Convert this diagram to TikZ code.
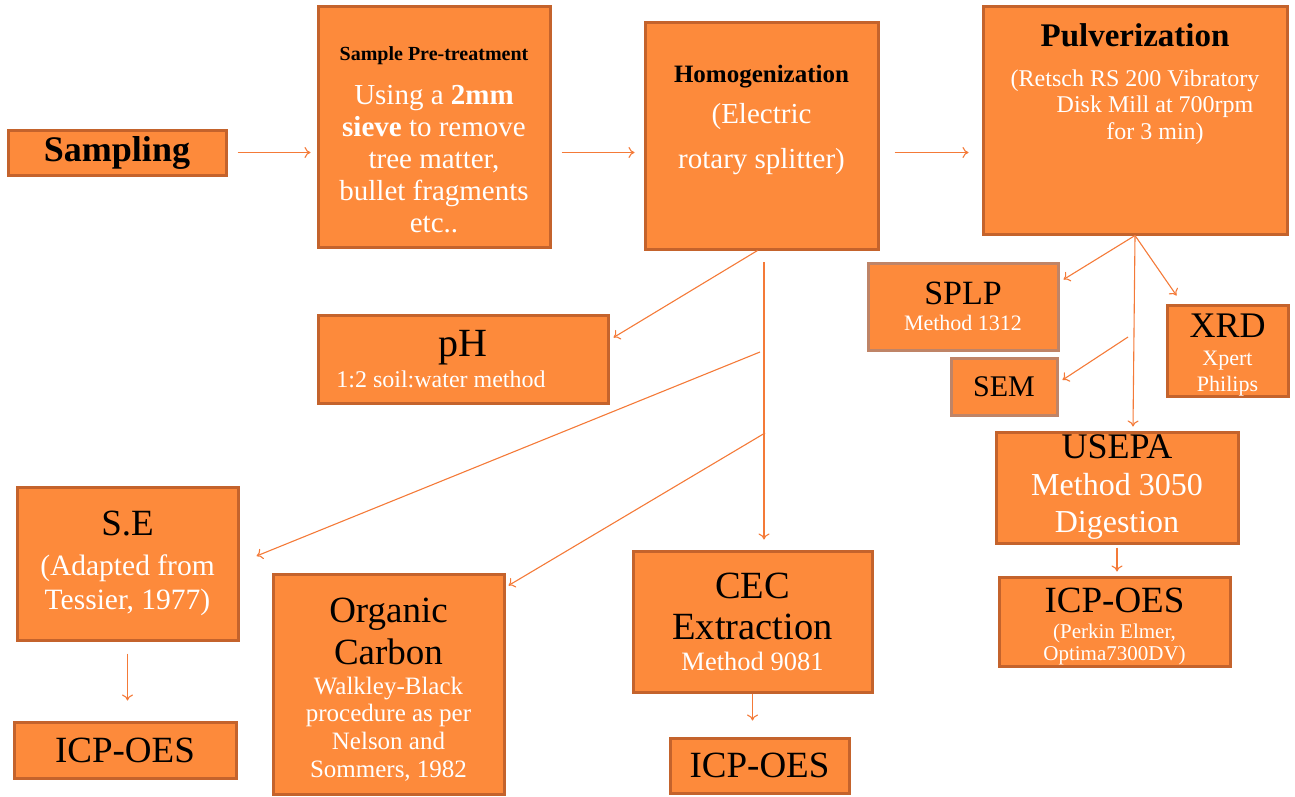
\documentclass[tikz,border=0pt]{standalone}
\usepackage{fontspec}
\newfontfamily\diagfont{Liberation Serif}
\usetikzlibrary{positioning, arrows.meta}
\definecolor{boxfill}{HTML}{FD8A3B}
\definecolor{boxedge}{HTML}{C4632C}
\definecolor{boxedgepale}{HTML}{BF8467}
\definecolor{arrowline}{HTML}{F47A38}
\begin{document}
\begin{tikzpicture}[->, >={To[length=6pt, width=11pt]}, x=1pt, y=-1pt,
    box/.style={draw=boxedge, fill=boxfill, line width=3pt, inner sep=0pt, text=white, font=\diagfont,
        align=flush center, execute at begin node={\spaceskip=0pt\xspaceskip=0pt\relax}},
    pale/.style={box, draw=boxedgepale},
    txt/.style={inner sep=0pt, text=white, font=\diagfont,
        align=flush center, execute at begin node={\spaceskip=0pt\xspaceskip=0pt\relax}},
    every edge/.append style={arrowline, line width=1.1pt}]
    \useasboundingbox (0,0) rectangle (1295,796);

    \node[box, minimum width=218pt, minimum height=45pt, text width=210pt] (1) at (117,152.5)
        {\fontsize{36}{40}\selectfont\bfseries\leavevmode\color{black}Sampling\par};
    \node[box, minimum width=232pt, minimum height=241pt] (2) at (434,126.5) {};
    \node[txt, text width=226pt, below=42pt] (2t) at (2.north)
        {{\fontsize{20}{24}\selectfont\bfseries\leavevmode\color{black}Sample Pre-treatment\par}
         \vspace{12pt}
         {\fontsize{29}{32}\selectfont Using a \textbf{2mm}\\ \textbf{sieve} to remove\\ tree matter,\\ bullet fragments\\ etc..\par}};
    \node[box, minimum width=233pt, minimum height=227pt] (3) at (761.5,135.5) {};
    \node[txt, text width=227pt, below=44pt] (3t) at (3.north)
        {{\fontsize{25}{28}\selectfont\bfseries\leavevmode\color{black}Homogenization\par}
         \vspace{-4pt}
         {\fontsize{29}{45}\selectfont (Electric\\ rotary splitter)\par}};
    \node[box, minimum width=304pt, minimum height=228pt] (4) at (1135,120) {};
    \node[txt, text width=300pt, below=18.5pt] (4t) at (4.north)
        {{\fontsize{33}{36}\selectfont\bfseries\leavevmode\color{black}Pulverization\par}
         \vspace{13.5pt}
         {\fontsize{24}{26.5}\selectfont (Retsch RS 200 Vibratory\\ \hspace*{40pt}Disk Mill at 700rpm\\ \hspace*{40pt}for 3 min)\par}};

    \node[pale, minimum width=190pt, minimum height=87pt, text width=180pt] (5) at (963,306.5)
        {{\fontsize{34}{36}\selectfont\leavevmode\color{black}SPLP\par}
         {\fontsize{22}{26}\selectfont Method 1312\par}};
    \node[pale, minimum width=106pt, minimum height=57pt, text width=100pt] (6) at (1004,386.5)
        {\fontsize{30}{32}\selectfont\leavevmode\color{black}SEM\par};
    \node[box, minimum width=121pt, minimum height=91pt] (7) at (1227.5,350.5) {};
    \node[txt, text width=115pt, below=10pt] (7t) at (7.north)
        {{\fontsize{36}{38}\selectfont\leavevmode\color{black}XRD\par}
         \vspace{2pt}
         {\fontsize{22}{26}\selectfont Xpert\\ Philips\par}};
    \node[box, minimum width=242pt, minimum height=111pt, text width=236pt] (8) at (1117,487.5)
        {{\fontsize{36}{38}\selectfont\leavevmode\color{black}USEPA\par}
         {\fontsize{32}{37}\selectfont Method 3050\\ Digestion\par}};
    \node[box, minimum width=231pt, minimum height=89pt] (9) at (1114.5,621.5) {};
    \node[txt, text width=225pt] (9t) at ([yshift=-5pt]9)
        {{\fontsize{37}{40}\selectfont\leavevmode\color{black}ICP-OES\par}
         \vspace{4pt}
         {\fontsize{21}{22}\selectfont (Perkin Elmer,\\ Optima7300DV)\par}};

    \node[box, minimum width=290pt, minimum height=88pt, text width=280pt] (10) at (463,359)
        {{\fontsize{40}{42}\selectfont\leavevmode\color{black}pH\par}
         {\fontsize{24}{31}\selectfont\hspace*{-44pt}1:2 soil:water method\par}};
    \node[box, minimum width=221pt, minimum height=153pt, text width=215pt] (11) at (127.5,563.5)
        {{\fontsize{37}{40}\selectfont\leavevmode\color{black}S.E\par}
         \vspace{6pt}
         {\fontsize{29.5}{34}\selectfont (Adapted from\\ Tessier, 1977)\par}};
    \node[box, minimum width=222pt, minimum height=56pt, text width=215pt] (12) at (125,750)
        {\fontsize{37}{40}\selectfont\leavevmode\color{black}ICP-OES\par};
    \node[box, minimum width=231pt, minimum height=220pt] (13) at (388.5,684) {};
    \node[txt, text width=225pt] (13t) at ([yshift=-5.5pt]13)
        {{\fontsize{37}{42}\selectfont\leavevmode\color{black}Organic\\ Carbon\par}
         \vspace{2pt}
         {\fontsize{25}{27.7}\selectfont Walkley-Black\\ procedure as per\\ Nelson and\\ Sommers, 1982\par}};
    \node[box, minimum width=239pt, minimum height=141pt, text width=233pt] (14) at (752.5,621.5)
        {{\fontsize{38.5}{41}\selectfont\leavevmode\color{black}CEC\\ Extraction\par}
         {\fontsize{26.5}{31}\selectfont Method 9081\par}};
    \node[box, minimum width=179pt, minimum height=55pt, text width=173pt] (15) at (759.5,765.5)
        {\fontsize{37}{40}\selectfont\leavevmode\color{black}ICP-OES\par};

    \coordinate (h1) at (764,262);
    \coordinate (h2) at (760,352);
    \coordinate (h3) at (765,433);
    \coordinate (p1) at (1128,337);

    \path
    (1.east) edge[shorten <=10pt, shorten >=6pt] (1.east -| 2.west)
    (1.east -| 2.east) edge[shorten <=10pt, shorten >=9pt] (1.east -| 3.west)
    (1.east -| 3.east) edge[shorten <=15pt, shorten >=13pt] (1.east -| 4.west)
    ([xshift=-4pt]3.south) edge ([xshift=4pt, yshift=-24pt]10.north east)
    (h1) edge[shorten >=10pt] (h1 |- 14.north)
    (h2) edge ([xshift=17pt, yshift=7.5pt]11.east)
    (h3) edge ([xshift=3pt, yshift=-13pt]13.north east)
    (4.south) edge ([xshift=4pt, yshift=-18pt]5.north east)
    (4.south) edge ([xshift=16pt, yshift=4pt]8.north)
    (4.south) edge ([xshift=11pt, yshift=8pt]7.north west)
    (p1) edge ([xshift=4pt, yshift=6.5pt]6.east)
    (8.south) edge[shorten <=3pt, shorten >=4pt] (8.south |- 9.north)
    (11.south) edge[shorten <=12pt, shorten >=20pt] (11.south |- 12.north)
    (14.south) edge[shorten >=16pt] (14.south |- 15.north);
\end{tikzpicture}
\end{document}
